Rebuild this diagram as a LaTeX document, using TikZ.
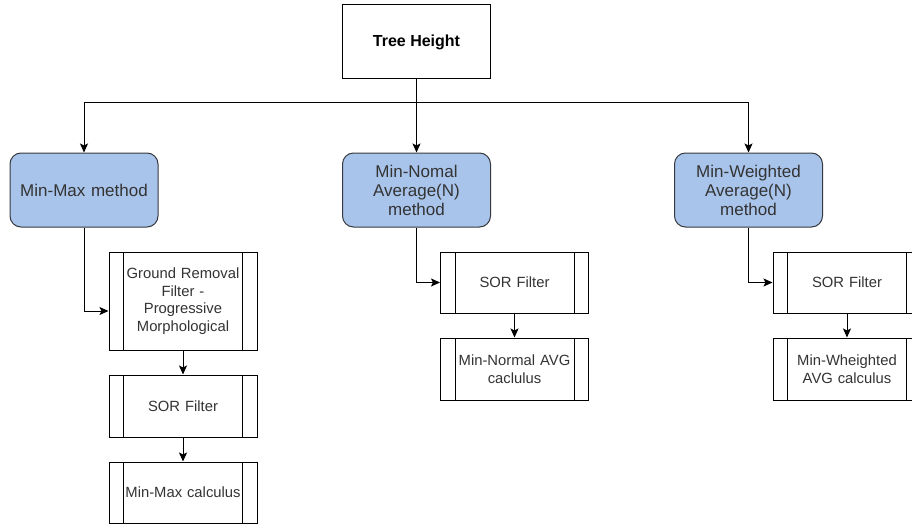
\documentclass[tikz,border=0pt]{standalone}
\usepackage{fontspec}
\setmainfont{Liberation Sans}
\usetikzlibrary{arrows.meta}
\definecolor{methodfill}{HTML}{A9C4EB}
\definecolor{methodline}{HTML}{36393D}
\definecolor{labelgray}{HTML}{333333}
\tikzset{
  arr/.style={draw=black, line width=1pt, -{Stealth[length=9pt,width=8pt,inset=2pt]}},
  topbox/.style={draw=black, line width=1pt, fill=white, minimum width=148pt, minimum height=74pt,
    font=\fontsize{16}{19}\selectfont\bfseries, align=center},
  methodbox/.style={draw=methodline, line width=1pt, fill=methodfill, rounded corners=11pt,
    minimum width=148pt, minimum height=74pt, text width=130pt, align=center,
    text=labelgray, font=\fontsize{17}{19}\selectfont},
  procbox/.style={draw=black, line width=1pt, fill=white, minimum width=148pt,
    text width=124pt, align=center, text=labelgray, inner sep=0pt,
    font=\fontsize{14.8}{17.5}\selectfont,
    path picture={
      \draw[line width=1pt] ([xshift=14.5pt]path picture bounding box.north west) -- ([xshift=14.5pt]path picture bounding box.south west);
      \draw[line width=1pt] ([xshift=-14.5pt]path picture bounding box.north east) -- ([xshift=-14.5pt]path picture bounding box.south east);
    }},
}
\begin{document}
\begin{tikzpicture}[x=1pt,y=-1pt]
  \useasboundingbox (0,0) rectangle (912,524);
  \clip (0,0) rectangle (912,524);

  % root
  \node[topbox] (tree) at (416.5,42) {Tree Height};

  % the three methods
  \node[methodbox] (mm) at (84,190) {Min-Max method};
  \node[methodbox] (mn) at (416.5,190) {Min-Nomal\\Average(N)\\method};
  \node[methodbox] (mw) at (748.5,190) {Min-Weighted\\Average(N)\\method};

  % Min-Max chain
  \node[procbox, minimum height=98pt] (gr) at (183,301) {Ground Removal\\Filter -\\Progressive\\Morphological};
  \node[procbox, minimum height=62pt] (sor1) at (183,406) {SOR Filter};
  \node[procbox, minimum height=61pt] (mmc) at (183,492.5) {Min-Max calculus};

  % Min-Normal chain
  \node[procbox, minimum height=61pt] (sor2) at (514.5,282.5) {SOR Filter};
  \node[procbox, minimum height=62pt] (mnc) at (514.5,369) {Min-Normal AVG\\caclulus};

  % Min-Weighted chain
  \node[procbox, minimum height=61pt] (sor3) at (847,282.5) {SOR Filter};
  \node[procbox, minimum height=62pt] (mwc) at (847,369) {Min-Wheighted\\AVG calculus};

  % root to methods
  \coordinate (split) at (416.5,103);
  \draw[line width=1pt] (tree.south) -- (split);
  \draw[arr] (split) -| (mm.north);
  \draw[arr] (split) -| (mw.north);
  \draw[arr] (tree.south) -- (mn.north);

  % methods to their first step
  \draw[arr] (mm.south) |- ([yshift=-10pt]gr.west);
  \draw[arr] (mn.south) |- (sor2.west);
  \draw[arr] (mw.south) |- (sor3.west);

  % steps within each chain
  \draw[arr] (gr.south) -- (sor1.north);
  \draw[arr] (sor1.south) -- (mmc.north);
  \draw[arr] (sor2.south) -- (mnc.north);
  \draw[arr] (sor3.south) -- (mwc.north);
\end{tikzpicture}
\end{document}
